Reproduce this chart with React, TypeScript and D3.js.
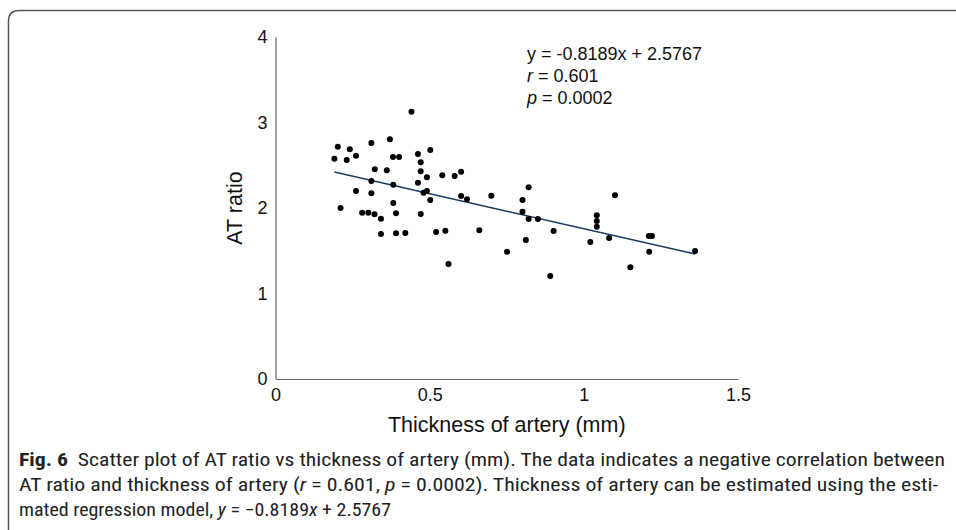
import { useEffect, useRef } from 'react';
import * as d3 from 'd3';

// thickness of artery (mm)
const thickness = [
  0.441, 0.202, 0.241, 0.311, 0.371, 0.191, 0.231, 0.261, 0.381, 0.401,
  0.462, 0.502, 0.471, 0.322, 0.361, 0.471, 0.491, 0.541, 0.581, 0.602,
  0.311, 0.382, 0.462, 0.261, 0.311, 0.480, 0.491, 0.502, 0.602, 0.621,
  0.700, 0.211, 0.382, 0.281, 0.301, 0.321, 0.342, 0.391, 0.471, 0.342,
  0.391, 0.421, 0.521, 0.551, 0.661, 0.751, 0.561, 0.821, 0.801, 0.801,
  0.821, 0.851, 0.902, 0.812, 0.891, 1.101, 1.042, 1.042, 1.042, 1.021,
  1.082, 1.211, 1.221, 1.212, 1.151, 1.361,
];
// AT ratio
const atRatio = [
  3.126, 2.717, 2.687, 2.760, 2.804, 2.577, 2.561, 2.612, 2.596, 2.596,
  2.632, 2.678, 2.535, 2.453, 2.441, 2.429, 2.359, 2.382, 2.374, 2.425,
  2.316, 2.273, 2.296, 2.199, 2.172, 2.179, 2.199, 2.094, 2.140, 2.102,
  2.144, 2.000, 2.058, 1.945, 1.945, 1.926, 1.875, 1.938, 1.930, 1.696,
  1.704, 1.708, 1.719, 1.735, 1.739, 1.489, 1.345, 2.242, 2.094, 1.957,
  1.871, 1.871, 1.731, 1.626, 1.205, 2.149, 1.915, 1.848, 1.781, 1.602,
  1.649, 1.673, 1.673, 1.489, 1.306, 1.497,
];
const xTicks = [0, 0.5, 1, 1.5];
const yTicks = [0, 1, 2, 3, 4];
const slope = -0.8189;
const intercept = 2.5767;
const statLines = ['y = -0.8189x + 2.5767', 'r = 0.601', 'p = 0.0002'];

const W = 956;
const H = 530;

export default function App() {
  const gRef = useRef<SVGGElement>(null);

  useEffect(() => {
    if (!gRef.current) return;
    const svg = d3.select(gRef.current);
    svg.selectAll('*').remove();

    const x = d3.scaleLinear().domain([0, 1.5]).range([275.5, 738]);
    const y = d3.scaleLinear().domain([0, 4]).range([379, 37]);
    const font = '"Liberation Sans", Arial, sans-serif';

    // axes
    const yAxis = svg.append('g')
      .attr('transform', `translate(${x(0)},0)`)
      .call(d3.axisLeft(y).tickValues(yTicks).tickSize(0).tickSizeOuter(0).tickPadding(8).tickFormat(d => `${d}`));
    const xAxis = svg.append('g')
      .attr('transform', `translate(0,${y(0)})`)
      .call(d3.axisBottom(x).tickValues(xTicks).tickSize(0).tickSizeOuter(0).tickPadding(9).tickFormat(d => `${d}`));
    [yAxis, xAxis].forEach(g => {
      g.attr('font-size', null).attr('font-family', null)
        .style('font-size', '18px').style('font-family', font);
      g.select('.domain').attr('stroke', '#666').attr('stroke-width', 1.2);
      g.selectAll('text').attr('fill', '#111');
    });

    // regression line
    const [x0, x1] = d3.extent(thickness) as [number, number];
    svg.append('line')
      .attr('x1', x(x0)).attr('y1', y(slope * x0 + intercept))
      .attr('x2', x(x1)).attr('y2', y(slope * x1 + intercept))
      .attr('stroke', '#1c3a5c')
      .attr('stroke-width', 1.5);

    // points
    svg.append('g')
      .selectAll('circle')
      .data(thickness.map((t, i) => [t, atRatio[i]]))
      .enter()
      .append('circle')
      .attr('cx', d => x(d[0]))
      .attr('cy', d => y(d[1]))
      .attr('r', 3)
      .attr('fill', '#000');

    // stats annotation
    const stats = svg.append('text')
      .style('font-family', font)
      .style('font-size', '18px')
      .attr('fill', '#111');
    statLines.forEach((s, i) => {
      const t = stats.append('tspan').attr('x', 527).attr('y', 60 + i * 22);
      if (i === 0) {
        t.text(s);
      } else {
        t.append('tspan').attr('font-style', 'italic').text(s[0]);
        t.append('tspan').text(s.slice(1));
      }
    });

    // axis titles
    svg.append('text')
      .attr('x', (x(0) + x(1.5)) / 2)
      .attr('y', 432)
      .attr('text-anchor', 'middle')
      .style('font-family', font)
      .style('font-size', '21.5px')
      .attr('fill', '#111')
      .text('Thickness of artery (mm)');
    svg.append('text')
      .attr('transform', `translate(242,${(y(0) + y(4)) / 2}) rotate(-90)`)
      .attr('text-anchor', 'middle')
      .style('font-family', font)
      .style('font-size', '21.5px')
      .attr('fill', '#111')
      .text('AT ratio');
  }, []);

  const cap = { fontFamily: '"Liberation Sans Narrow", "Roboto Condensed", "Roboto", sans-serif', fontSize: 18, fill: '#222' };
  const it = { fontStyle: 'italic' as const };

  return (
    <svg width={W} height={H} style={{ position: 'absolute', left: 0, top: 0, background: '#fff' }}>
      <path d={`M8.5,${H} V21 Q8.5,10.5 19,10.5 H${W}`} fill="none" stroke="#555" strokeWidth={1.5} />
      <g ref={gRef} />
      <text x={19} y={466} style={cap} textLength={926} lengthAdjust="spacingAndGlyphs">
        <tspan fontWeight="bold">Fig. 6</tspan>
        <tspan>{'\u00a0\u00a0Scatter plot of AT ratio vs thickness of artery (mm). The data indicates a negative correlation between'}</tspan>
      </text>
      <text x={19} y={491} style={cap} textLength={919} lengthAdjust="spacingAndGlyphs">
        <tspan>{'AT ratio and thickness of artery ('}</tspan>
        <tspan style={it}>r</tspan>
        <tspan>{' = 0.601, '}</tspan>
        <tspan style={it}>p</tspan>
        <tspan>{' = 0.0002). Thickness of artery can be estimated using the esti-'}</tspan>
      </text>
      <text x={19} y={516} style={cap} textLength={372} lengthAdjust="spacingAndGlyphs">
        <tspan>{'mated regression model, '}</tspan>
        <tspan style={it}>y</tspan>
        <tspan>{' = \u22120.8189'}</tspan>
        <tspan style={it}>x</tspan>
        <tspan>{' + 2.5767'}</tspan>
      </text>
    </svg>
  );
}
